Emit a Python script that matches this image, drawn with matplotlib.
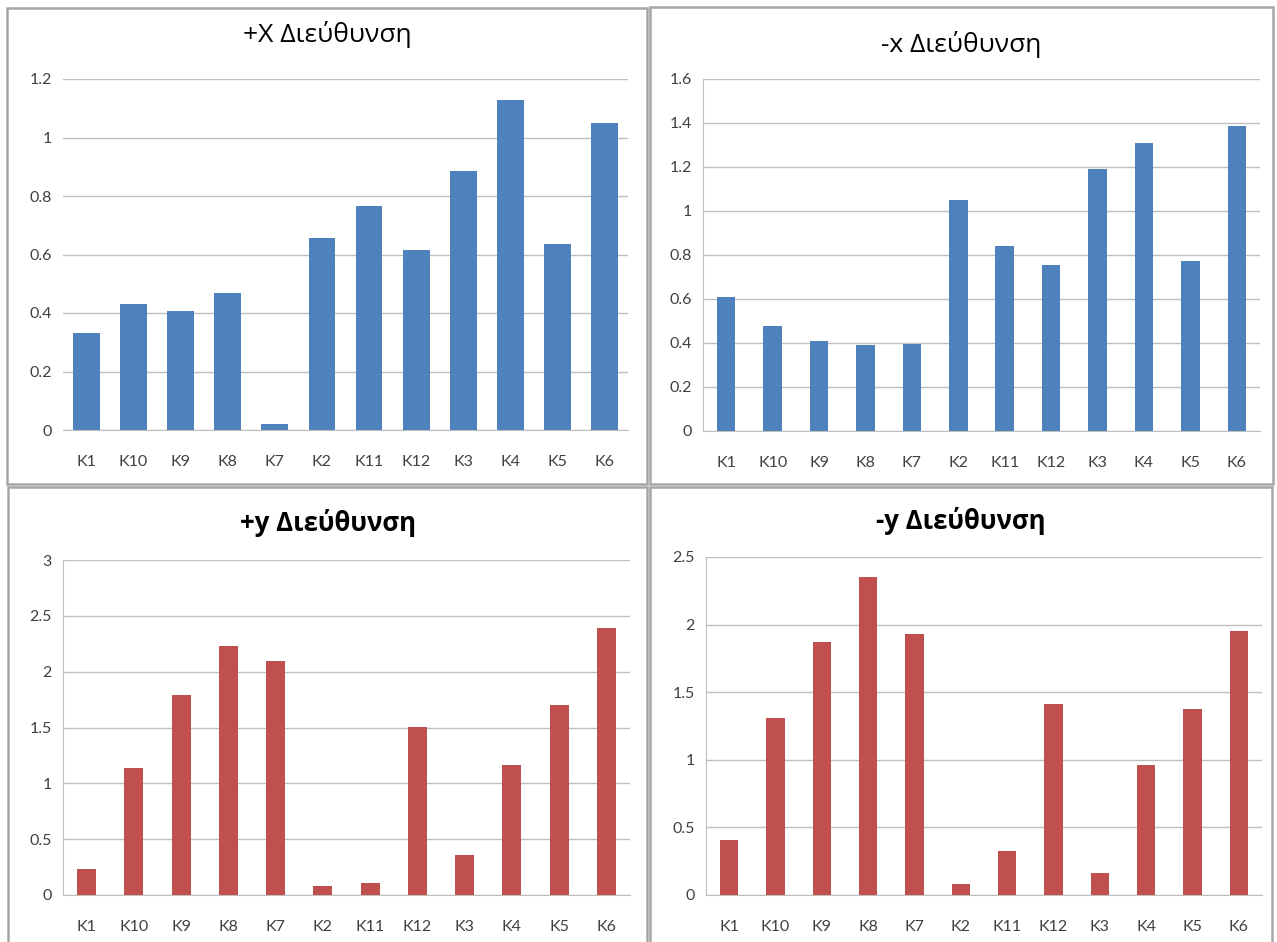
import matplotlib
matplotlib.use('Agg')

import matplotlib.pyplot as plt
from matplotlib.patches import Rectangle
import numpy as np

plt.rcParams['font.family'] = ['Open Sans', 'DejaVu Sans']

# category order as it appears on the x axis
labels = ['K1', 'K10', 'K9', 'K8', 'K7', 'K2', 'K11', 'K12', 'K3', 'K4', 'K5', 'K6']

plus_x = [0.331, 0.431, 0.408, 0.469, 0.021, 0.658, 0.766, 0.615, 0.887, 1.129, 0.635, 1.050]
minus_x = [0.610, 0.476, 0.409, 0.393, 0.397, 1.049, 0.839, 0.755, 1.189, 1.309, 0.775, 1.386]
plus_y = [0.236, 1.133, 1.790, 2.228, 2.099, 0.082, 0.103, 1.504, 0.359, 1.166, 1.704, 2.393]
minus_y = [0.409, 1.309, 1.871, 2.355, 1.930, 0.079, 0.325, 1.410, 0.160, 0.964, 1.376, 1.950]

titles = ['+X Διεύθυνση', '-x Διεύθυνση', '+y Διεύθυνση', '-y Διεύθυνση']

W, H = 1277, 942
BLUE = '#4F81BD'
RED = '#C0504D'
GRID = '#BFBFBF'
BORDER = '#A6A6A6'

fig = plt.figure(figsize=(W / 100, H / 100), dpi=100)


def px_rect(left, top, right, bottom):
    # pixel box -> figure fraction [x, y, w, h]
    return [left / W, 1 - bottom / H, (right - left) / W, (bottom - top) / H]


# (frame box, plot box, title y, values, ymax, step, colour, bar width, bold title, left axis line)
panels = [
    ((7, 8, 647, 484), (63, 79, 628, 430), 35, plus_x, 1.2, 0.2, BLUE, 0.57, False, False),
    ((650, 7, 1273, 484), (703, 79, 1260, 431), 44, minus_x, 1.6, 0.2, BLUE, 0.40, False, True),
    ((8, 487, 647, 950), (63, 560, 630, 895), 523, plus_y, 3.0, 0.5, RED, 0.40, True, True),
    ((650, 487, 1272, 950), (706, 557, 1262, 895), 521, minus_y, 2.5, 0.5, RED, 0.40, True, True),
]

for (frame, box, title_y, values, ymax, step, color, width, bold, left_line), title in zip(panels, titles):
    l, t, r, b = frame
    fig.patches.append(Rectangle((l / W, 1 - b / H), (r - l) / W, (b - t) / H,
                                 transform=fig.transFigure, fill=False,
                                 edgecolor=BORDER, linewidth=1.8))

    ax = fig.add_axes(px_rect(*box))
    x = np.arange(len(labels))
    ax.bar(x, values, width=width, color=color, zorder=3)

    ax.set_xlim(-0.5, len(labels) - 0.5)
    ax.set_ylim(0, ymax)
    ticks = np.arange(0, ymax + step / 2, step)
    ax.set_yticks(ticks)
    ax.set_yticklabels([f'{v:g}' for v in ticks])
    ax.set_xticks(x)
    ax.set_xticklabels(labels)
    for lab in ax.get_xticklabels() + ax.get_yticklabels():
        lab.set_family(['Lato', 'DejaVu Sans'])

    ax.yaxis.grid(True, color=GRID, linewidth=1.0, zorder=0)
    ax.tick_params(axis='both', length=0, labelsize=11.5, labelcolor='#404040')
    ax.tick_params(axis='y', pad=8)
    ax.tick_params(axis='x', pad=18)

    for side in ['top', 'right']:
        ax.spines[side].set_visible(False)
    ax.spines['bottom'].set_color(GRID)
    ax.spines['left'].set_color(GRID)
    ax.spines['left'].set_visible(left_line)

    cx = (l + r) / 2 / W
    fig.text(cx, 1 - title_y / H, title, ha='center', va='center',
             fontsize=19 if not bold else 18.5,
             fontweight='bold' if bold else 'normal', color='black')

fig.savefig('out.png', dpi=100)
